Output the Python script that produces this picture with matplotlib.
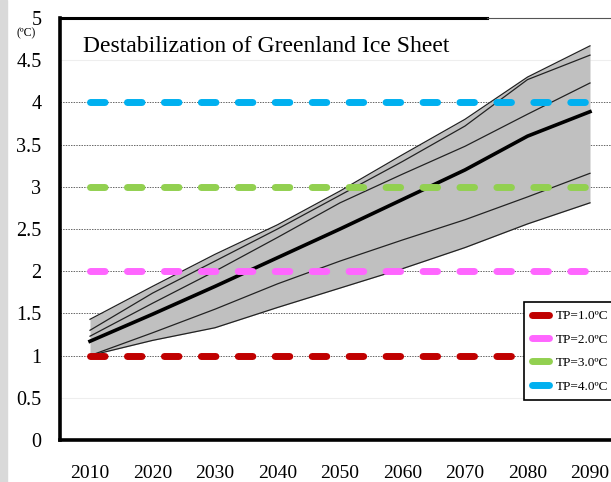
import numpy as np
import matplotlib.pyplot as plt
from matplotlib.lines import Line2D
from matplotlib.patches import Rectangle

plt.rcParams['font.family'] = ['Liberation Serif', 'DejaVu Serif']

# projected warming paths (ºC)
years = [2010, 2020, 2030, 2040, 2050, 2060, 2070, 2080, 2090]
path_top = [1.43, 1.82, 2.20, 2.55, 2.95, 3.38, 3.80, 4.30, 4.67]
path_high = [1.30, 1.74, 2.12, 2.50, 2.90, 3.30, 3.72, 4.27, 4.56]
path_mid_high = [1.23, 1.62, 2.00, 2.40, 2.81, 3.15, 3.48, 3.86, 4.23]
path_mean = [1.17, 1.49, 1.82, 2.16, 2.50, 2.85, 3.20, 3.60, 3.89]
path_low = [1.00, 1.27, 1.55, 1.85, 2.12, 2.37, 2.61, 2.88, 3.16]
path_bottom = [1.00, 1.18, 1.33, 1.57, 1.80, 2.03, 2.28, 2.56, 2.81]

# tipping point thresholds
tp_levels = [1.0, 2.0, 3.0, 4.0]
tp_colors = ['#C00000', '#FF66FF', '#92D050', '#00B0F0']
tp_labels = ['TP=1.0ºC', 'TP=2.0ºC', 'TP=3.0ºC', 'TP=4.0ºC']

y_ticks = [0, 0.5, 1, 1.5, 2, 2.5, 3, 3.5, 4, 4.5, 5]
y_ticklabels = ['0', '0.5', '1', '1.5', '2', '2.5', '3', '3.5', '4', '4.5', '5']

W, H = 611, 482
fig = plt.figure(figsize=(W / 100, H / 100), dpi=100)
fig.patches.append(Rectangle((0, 0), 7 / W, 1, transform=fig.transFigure,
                             color='#d9d9d9', zorder=0))

ax = fig.add_axes([60 / W, 42 / H, (W - 60) / W, 422 / H])
ax.set_xlim(2005.2, 2093.36)
ax.set_ylim(0, 5)

# horizontal guides
for v in y_ticks[1:-1]:
    if v in (0.5, 4.5):
        ax.axhline(v, color='#eeeeee', lw=0.8, zorder=1)
    else:
        ax.axhline(v, color='#666666', lw=0.7, ls=(0, (1.5, 1.2)), zorder=1)

# spread of paths
lines = [path_top, path_high, path_mid_high, path_mean, path_low, path_bottom]
band_hi = np.max(lines, axis=0)
band_lo = np.min(lines, axis=0)
ax.fill_between(years, band_lo, band_hi, color='#c0c0c0', lw=0, zorder=2)
for p in [path_top, path_high, path_mid_high, path_low, path_bottom]:
    ax.plot(years, p, color='#222222', lw=0.9, zorder=3)
ax.plot(years, path_mean, color='black', lw=2.6, zorder=4)

# thresholds
for lvl, c in zip(tp_levels, tp_colors):
    ax.plot([years[0], years[-1]], [lvl, lvl], color=c, lw=5,
            dashes=(2.1, 3.22), dash_capstyle='round', zorder=5)

for side in ['right', 'top']:
    ax.spines[side].set_visible(False)
ax.spines['left'].set_linewidth(2.6)
ax.spines['bottom'].set_linewidth(2.6)
ax.plot([0, (487 - 60) / (W - 60)], [1, 1], transform=ax.transAxes,
        color='black', lw=2.2, clip_on=False, zorder=6)
ax.plot([(487 - 60) / (W - 60), 1], [1, 1], transform=ax.transAxes,
        color='#555555', lw=0.8, clip_on=False, zorder=6)

ax.set_xticks(years)
ax.set_xticklabels([str(y) for y in years], fontsize=14)
ax.set_yticks(y_ticks)
ax.set_yticklabels(y_ticklabels, fontsize=14.5)
ax.tick_params(axis='both', length=0)
ax.tick_params(axis='x', pad=18)
ax.tick_params(axis='y', pad=13.4)

fig.text(26 / W, 1 - 33 / H, '(ºC)', fontsize=8.5, ha='center', va='center')
fig.text(83 / W, 1 - 47 / H, 'Destabilization of Greenland Ice Sheet',
         fontsize=17, ha='left', va='center')

handles = [Line2D([0], [0], color=c, lw=5, solid_capstyle='round')
           for c in tp_colors]
leg = fig.legend(handles, tp_labels, loc='upper left',
                 bbox_to_anchor=(524 / W, 1 - 302 / H), fontsize=9.5,
                 frameon=True, fancybox=False, edgecolor='black',
                 framealpha=1, handlelength=1.3, handletextpad=0.5,
                 labelspacing=0.85, borderpad=0.6, borderaxespad=0)
leg.get_frame().set_linewidth(1.2)

fig.savefig('out.png', dpi=100)
